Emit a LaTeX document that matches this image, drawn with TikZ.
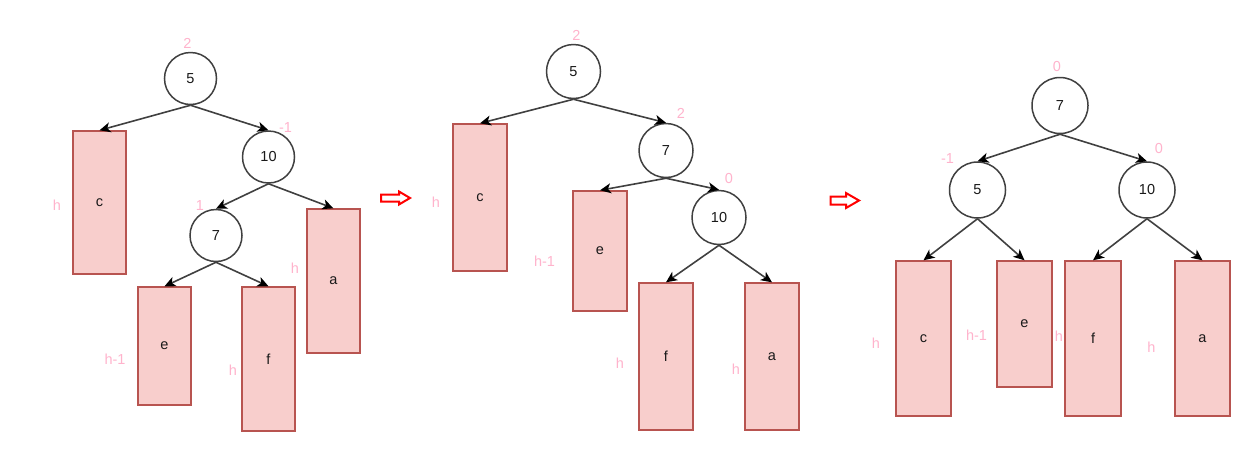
\documentclass[tikz,border=0pt]{standalone}
\usepackage{fontspec}
\setmainfont{Liberation Sans}
\usetikzlibrary{arrows.meta}
\definecolor{boxfill}{HTML}{F8CECC}
\definecolor{boxline}{HTML}{B85450}
\definecolor{lbl}{HTML}{FFB3CC}
\definecolor{edgec}{HTML}{404040}
\begin{document}
\begin{tikzpicture}[x=1pt,y=-1pt,
  txt/.style={font=\fontsize{14.5pt}{17pt}\selectfont, text=black!90},
  avl/.style={txt, circle, draw=edgec, line width=1.5pt, fill=white, inner sep=0pt},
  sub/.style={txt, rectangle, draw=boxline, line width=1.4pt, fill=boxfill, inner sep=0pt},
  lab/.style={font=\fontsize{14.5pt}{17pt}\selectfont, text=lbl, inner sep=0pt},
  edge/.style={draw=edgec, line width=1.6pt, -{Stealth[length=11pt,width=10pt,inset=3pt,color=black,fill=black]}},
  redarrow/.style={draw=red, line width=2pt, fill=white, line join=miter}]
\useasboundingbox (0,0) rectangle (1257,459);
% ---------- tree 1 ----------
\node[avl, minimum size=52pt] (n5a) at (190.5,78.5) {5};
\node[avl, minimum size=52pt] (n10a) at (268.5,157) {10};
\node[avl, minimum size=52pt] (n7a) at (216,235.5) {7};
\node[sub, minimum width=53pt, minimum height=143pt] (c1) at (99.5,202.5) {c};
\node[sub, minimum width=53pt, minimum height=144pt] (a1) at (333.5,281) {a};
\node[sub, minimum width=53pt, minimum height=118pt] (e1) at (164.5,346) {e};
\node[sub, minimum width=53pt, minimum height=144pt] (f1) at (268.5,359) {f};
\draw[edge] (n5a.south) -- (c1.north);
\draw[edge] (n5a.south) -- (n10a.north);
\draw[edge] (n10a.south) -- (n7a.north);
\draw[edge] (n10a.south) -- (a1.north);
\draw[edge] (n7a.south) -- (e1.north);
\draw[edge] (n7a.south) -- (f1.north);
\node[lab] (l1a) at (187.5,43) {2};
\node[lab] (l1b) at (285.5,128) {-1};
\node[lab] (l1c) at (200,206) {1};
\node[lab] (l1d) at (57,205.5) {h};
\node[lab] (l1e) at (295,268) {h};
\node[lab] (l1f) at (115,359.5) {h-1};
\node[lab] (l1g) at (233,370) {h};
% ---------- arrow 1 ----------
\draw[redarrow] (381,194.5) -- (399,194.5) -- (399,191.5) -- (410,198) -- (399,204.5) -- (399,201.5) -- (381,201.5) -- cycle;
% ---------- tree 2 ----------
\node[avl, minimum size=54pt] (n5b) at (573.5,71.5) {5};
\node[avl, minimum size=54pt] (n7b) at (666,150.5) {7};
\node[avl, minimum size=54pt] (n10b) at (719,217.5) {10};
\node[sub, minimum width=54pt, minimum height=147pt] (c2) at (480,197.5) {c};
\node[sub, minimum width=54pt, minimum height=120pt] (e2) at (600,251) {e};
\node[sub, minimum width=54pt, minimum height=147pt] (f2) at (666,356.5) {f};
\node[sub, minimum width=54pt, minimum height=147pt] (a2) at (772,356.5) {a};
\draw[edge] (n5b.south) -- (c2.north);
\draw[edge] (n5b.south) -- (n7b.north);
\draw[edge] (n7b.south) -- (e2.north);
\draw[edge] (n7b.south) -- (n10b.north);
\draw[edge] (n10b.south) -- (f2.north);
\draw[edge] (n10b.south) -- (a2.north);
\node[lab] (l2a) at (576.5,35) {2};
\node[lab] (l2b) at (681,113) {2};
\node[lab] (l2c) at (729,179) {0};
\node[lab] (l2d) at (436,202) {h};
\node[lab] (l2e) at (544.5,261) {h-1};
\node[lab] (l2f) at (620,363) {h};
\node[lab] (l2g) at (736,369) {h};
% ---------- arrow 2 ----------
\draw[redarrow] (830.5,196.5) -- (846,196.5) -- (846,193) -- (859,200.5) -- (846,208) -- (846,204.5) -- (830.5,204.5) -- cycle;
% ---------- tree 3 ----------
\node[avl, minimum size=56pt] (n7c) at (1060,105.5) {7};
\node[avl, minimum size=56pt] (n5c) at (977.5,190) {5};
\node[avl, minimum size=56pt] (n10c) at (1147,190) {10};
\node[sub, minimum width=55pt, minimum height=155pt] (c3) at (923.5,338.5) {c};
\node[sub, minimum width=55pt, minimum height=126pt] (e3) at (1024.5,324) {e};
\node[sub, minimum width=56pt, minimum height=155pt] (f3) at (1093,338.5) {f};
\node[sub, minimum width=55pt, minimum height=155pt] (a3) at (1202.5,338.5) {a};
\draw[edge] (n7c.south) -- (n5c.north);
\draw[edge] (n7c.south) -- (n10c.north);
\draw[edge] (n5c.south) -- (c3.north);
\draw[edge] (n5c.south) -- (e3.north);
\draw[edge] (n10c.south) -- (f3.north);
\draw[edge] (n10c.south) -- (a3.north);
\node[lab] (l3a) at (1057,67) {0};
\node[lab] (l3b) at (947.5,159) {-1};
\node[lab] (l3c) at (1159,149) {0};
\node[lab] (l3d) at (876,343) {h};
\node[lab] (l3e) at (976.5,335) {h-1};
\node[lab] (l3f) at (1059,336) {h};
\node[lab] (l3g) at (1151.5,347) {h};
\end{tikzpicture}
\end{document}
